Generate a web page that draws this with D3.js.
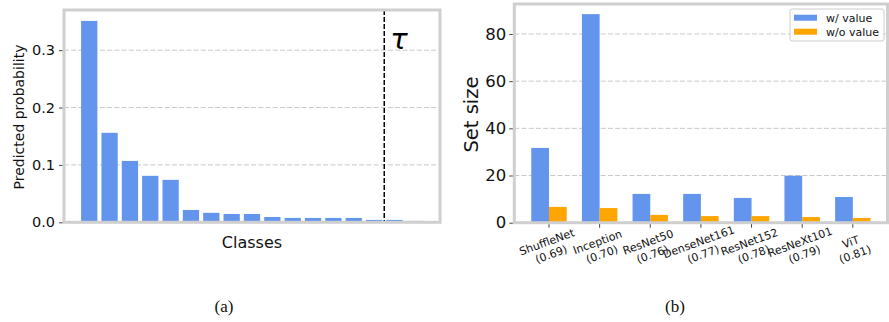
<!DOCTYPE html>
<html><head><meta charset="utf-8">
<script src="https://cdn.jsdelivr.net/npm/d3@7"></script>
<style>body{margin:0;background:#fff}svg{display:block}</style>
</head><body>
<script>
// Panel (a) data
const classIdx = d3.range(17);
const probs = [0.351,0.156,0.107,0.081,0.074,0.0215,0.0165,0.0145,0.0145,0.0093,0.0076,0.0076,0.0076,0.0076,0.0042,0.0042,0.0024];
const probTicks = [0.0,0.1,0.2,0.3];
const tauPos = 14.5;
// Panel (b) data
const models = ["ShuffleNet","Inception","ResNet50","DenseNet161","ResNet152","ResNeXt101","ViT"];
const accs = ["(0.69)","(0.70)","(0.76)","(0.77)","(0.78)","(0.79)","(0.81)"];
const withValue = [31.7,88.4,12.2,12.2,10.5,19.9,10.9];
const withoutValue = [6.7,6.2,3.3,2.8,2.8,2.4,2.0];
const sizeTicks = [0,20,40,60,80];
const seriesNames = ["w/ value","w/o value"];

const W=889,H=322;
const BLUE="#6495ED", ORANGE="#FFA500", FRAME="#cfcfcf", GRID="#c8c8c8";
const F="DejaVu Sans";
const svg=d3.select("body").append("svg").attr("width",W).attr("height",H);

// ---------- Panel (a)
{
 const L=64,R=440,T=10,B=222.3;
 const x=d3.scaleLinear().domain([-1.24,17.24]).range([L,R]);
 const y=d3.scaleLinear().domain([0,0.37]).range([B,T]);
 const g=svg.append("g");
 g.selectAll("line.grid").data(probTicks.slice(1)).join("line")
  .attr("x1",L).attr("x2",R).attr("y1",d=>y(d)).attr("y2",d=>y(d))
  .attr("stroke",GRID).attr("stroke-width",1).attr("stroke-dasharray","5,2.2");
 const bw=x(0.8)-x(0);
 g.selectAll("rect").data(probs).join("rect")
  .attr("x",(d,i)=>x(classIdx[i]-0.4)).attr("width",bw)
  .attr("y",d=>y(d)).attr("height",d=>B-y(d)).attr("fill",BLUE);
 g.append("line").attr("x1",x(tauPos)).attr("x2",x(tauPos)).attr("y1",T).attr("y2",B)
  .attr("stroke","#000").attr("stroke-width",1.5).attr("stroke-dasharray","5,2");
 g.append("text").attr("x",x(tauPos)+6).attr("y",49).attr("font-family",F)
  .attr("font-style","italic").attr("font-size",29).attr("fill","#000").text("τ");
 g.append("rect").attr("x",L).attr("y",T).attr("width",R-L).attr("height",B-T)
  .attr("fill","none").attr("stroke",FRAME).attr("stroke-width",3);
 const ya=d3.axisLeft(y).tickValues(probTicks).tickFormat(d3.format(".1f")).tickSize(3.5).tickPadding(4);
 const ag=g.append("g").attr("transform",`translate(${L-1.5},0)`).call(ya);
 ag.select(".domain").remove();
 ag.selectAll(".tick line").attr("stroke","#444");
 ag.selectAll("text").attr("font-family",F).attr("font-size",14.5).attr("fill","#111");
 g.append("text").attr("transform",`translate(23.5,117) rotate(-90)`).attr("text-anchor","middle")
  .attr("font-family",F).attr("font-size",14).attr("fill","#111").text("Predicted probability");
 g.append("text").attr("x",252).attr("y",248).attr("text-anchor","middle")
  .attr("font-family",F).attr("font-size",16).attr("fill","#111").text("Classes");
 g.append("text").attr("x",224).attr("y",312).attr("text-anchor","middle")
  .attr("font-family","Liberation Serif").attr("font-size",17).attr("fill","#111").text("(a)");
}

// ---------- Panel (b)
{
 const L=514.3,R=887.5,T=4,B=222.7;
 const x=d3.scaleLinear().domain([-0.685,6.685]).range([L,R]);
 const y=d3.scaleLinear().domain([0,92.7]).range([B,T]);
 const g=svg.append("g");
 g.selectAll("line.grid").data(sizeTicks.slice(1)).join("line")
  .attr("x1",L).attr("x2",R).attr("y1",d=>y(d)).attr("y2",d=>y(d))
  .attr("stroke",GRID).attr("stroke-width",1).attr("stroke-dasharray","5,2.2");
 const w=0.35, bw=x(w)-x(0);
 g.selectAll("rect.a").data(withValue).join("rect")
  .attr("x",(d,i)=>x(i-w)).attr("width",bw).attr("y",d=>y(d)).attr("height",d=>B-y(d)).attr("fill",BLUE);
 g.selectAll("rect.b").data(withoutValue).join("rect")
  .attr("x",(d,i)=>x(i)).attr("width",bw).attr("y",d=>y(d)).attr("height",d=>B-y(d)).attr("fill",ORANGE);
 g.append("rect").attr("x",L).attr("y",T).attr("width",R-L).attr("height",B-T)
  .attr("fill","none").attr("stroke",FRAME).attr("stroke-width",3);
 const ya=d3.axisLeft(y).tickValues(sizeTicks).tickSize(3.5).tickPadding(3);
 const ag=g.append("g").attr("transform",`translate(${L-1.5},0)`).call(ya);
 ag.select(".domain").remove();
 ag.selectAll(".tick line").attr("stroke","#444");
 ag.selectAll("text").attr("font-family",F).attr("font-size",16.5).attr("fill","#111");
 // x ticks
 g.selectAll("line.xt").data(models).join("line")
  .attr("x1",(d,i)=>x(i)).attr("x2",(d,i)=>x(i)).attr("y1",B+1.5).attr("y2",B+5)
  .attr("stroke","#444");
 const fs=11, lh=13;
 const lab=g.selectAll("g.xl").data(models).join("g")
  .attr("transform",(d,i)=>`translate(${x(i)},248) rotate(-20)`);
 lab.append("text").attr("text-anchor","middle").attr("font-family",F).attr("font-size",fs).attr("fill","#111")
  .attr("y",-lh/2+fs*0.36).text(d=>d);
 lab.append("text").attr("text-anchor","middle").attr("font-family",F).attr("font-size",fs).attr("fill","#111")
  .attr("y",lh/2+fs*0.36).text((d,i)=>accs[i]);
 g.append("text").attr("transform",`translate(478,114.5) rotate(-90)`).attr("text-anchor","middle")
  .attr("font-family",F).attr("font-size",19.5).attr("fill","#111").text("Set size");
 // legend
 const lg=g.append("g");
 lg.append("rect").attr("x",790).attr("y",9).attr("width",94).attr("height",32).attr("rx",2)
  .attr("fill","#fff").attr("fill-opacity",0.8).attr("stroke","#ccc").attr("stroke-width",1);
 const cols=[BLUE,ORANGE];
 seriesNames.forEach((n,i)=>{
  lg.append("rect").attr("x",794).attr("y",14.7+i*14).attr("width",23).attr("height",6).attr("fill",cols[i]);
  lg.append("text").attr("x",826).attr("y",21.7+i*14).attr("font-family",F).attr("font-size",11)
   .attr("fill","#111").text(n);
 });
 g.append("text").attr("x",675).attr("y",312).attr("text-anchor","middle")
  .attr("font-family","Liberation Serif").attr("font-size",17).attr("fill","#111").text("(b)");
}
</script>
</body></html>
